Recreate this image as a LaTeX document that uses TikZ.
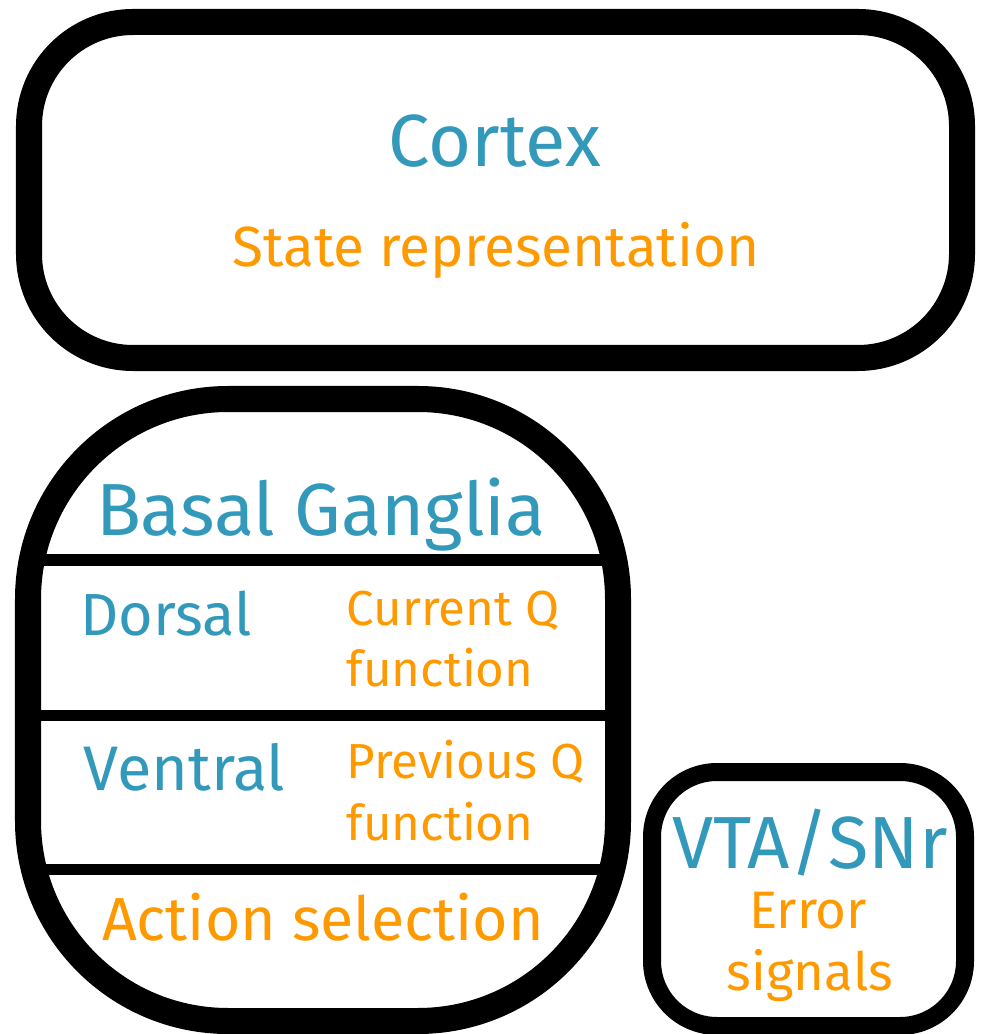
\documentclass[tikz,border=0pt]{standalone}
\usepackage{fontspec}
\setmainfont{Fira Sans}
\definecolor{regionblue}{HTML}{3399BB}
\definecolor{roleorange}{HTML}{FF9900}
\begin{document}
\begin{tikzpicture}[x=0.01cm, y=-0.01cm,
  area/.style={draw=black, line width=0.26cm, rounded corners=1.04cm},
  title/.style={text=regionblue, inner sep=0pt, font=\fontsize{#1}{#1}\selectfont},
  role/.style={text=roleorange, inner sep=0pt, font=\fontsize{#1}{#1}\selectfont}]
  \useasboundingbox (0,0) rectangle (981,1034);
  % Cortex
  \draw[area] (29,22) rectangle (962,358);
  \node[title=21, anchor=base] (cortex) at (495,167) {Cortex};
  \node[role=16.1, anchor=base] (state) at (496,267) {State representation};
  % Basal ganglia with its three bands
  \begin{scope}
    \clip[rounded corners=2cm] (28,399) rectangle (618,1021);
    \foreach \y in {560,715,869}
      \draw[line width=0.11cm] (0,\y) -- (981,\y);
  \end{scope}
  \draw[area, rounded corners=2cm] (28,399) rectangle (618,1021);
  \node[title=21, anchor=base] (bg) at (321,535) {Basal Ganglia};
  \node[title=16.9, anchor=base west] (dorsal) at (80,635) {Dorsal};
  \node[role=14, anchor=base west] (curq) at (346,625) {Current Q};
  \node[role=14, anchor=base west] (curqf) at (346,686) {function};
  \node[title=17.9, anchor=base west] (ventral) at (83,790) {Ventral};
  \node[role=14, anchor=base west] (prevq) at (346,778) {Previous Q};
  \node[role=14, anchor=base west] (prevqf) at (346,840) {function};
  \node[role=17.3, anchor=base] (action) at (323,940) {Action selection};
  % VTA/SNr
  \draw[area, line width=0.18cm, rounded corners=0.65cm] (652,772) rectangle (965,1026);
  \node[title=21, anchor=base] (vta) at (810,868) {VTA/SNr};
  \node[role=15, anchor=base] (err) at (808,928) {Error};
  \node[role=15, anchor=base] (errs) at (810,990) {signals};
\end{tikzpicture}
\end{document}
